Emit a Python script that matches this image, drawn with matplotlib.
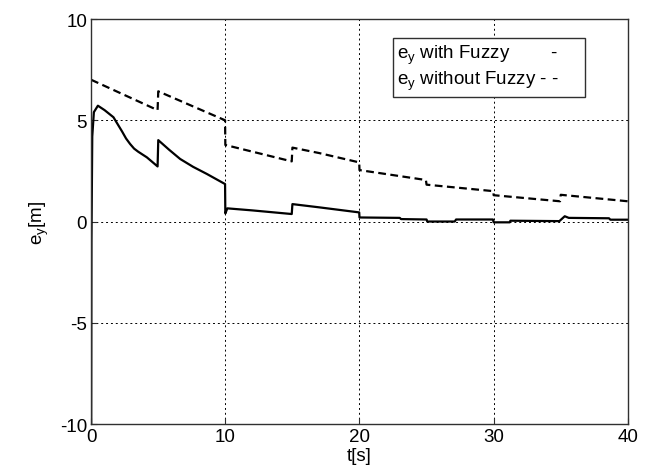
import matplotlib
matplotlib.use("Agg")
import matplotlib.pyplot as plt

plt.rcParams['font.family'] = ['Liberation Sans', 'DejaVu Sans']
plt.rcParams['mathtext.fontset'] = 'custom'
plt.rcParams['mathtext.rm'] = 'Liberation Sans'
plt.rcParams['mathtext.it'] = 'Liberation Sans'
plt.rcParams['axes.unicode_minus'] = False

# Data
t_fuzzy = [0, 0.02, 0.08, 0.2, 0.5, 1.0, 1.66, 2.3, 2.6, 2.9, 3.2, 3.5, 3.8, 4.15, 4.95,
           5.0, 5.8, 6.63, 7.6, 8.62, 9.98, 10.0, 10.15, 12.0, 14.95, 15.0, 17.0,
           19.98, 20.0, 23.0, 23.1, 25.0, 25.05, 27.1, 27.2, 29.95, 30.0, 31.2, 31.25,
           34.9, 35.3, 35.6, 38.6, 38.7, 40.0]
e_fuzzy = [-10, -1.0, 4.2, 5.4, 5.72, 5.5, 5.15, 4.45, 4.1, 3.83, 3.6, 3.45, 3.32, 3.17, 2.72,
           4.02, 3.55, 3.09, 2.7, 2.35, 1.85, 0.4, 0.65, 0.55, 0.37, 0.86, 0.7,
           0.45, 0.2, 0.18, 0.12, 0.1, 0.0, 0.0, 0.1, 0.1, -0.04, -0.04, 0.04,
           0.02, 0.26, 0.18, 0.16, 0.09, 0.09]

t_nofuzzy = [0, 4.95, 5.0, 9.98, 10.0, 14.95, 15.0, 17.0, 19.98, 20.0, 24.95, 25.0,
             29.98, 30.0, 34.95, 35.0, 40.0]
e_nofuzzy = [7.0, 5.5, 6.43, 5.0, 3.78, 2.97, 3.65, 3.38, 2.92, 2.54, 2.05, 1.82,
             1.5, 1.3, 1.0, 1.32, 1.0]

x_ticks = [0, 10, 20, 30, 40]
y_ticks = [-10, -5, 0, 5, 10]

label_fuzzy = r'$\mathregular{e_y}$ with Fuzzy        -' + '\u00a0' * 5
label_nofuzzy = r'$\mathregular{e_y}$ without Fuzzy - -' + '\u00a0' * 5

fig = plt.figure(figsize=(6.56, 4.77), dpi=100)
ax = fig.add_axes([0.139, 0.109, 0.818, 0.849])

ax.plot(t_fuzzy, e_fuzzy, color='black', lw=1.6, label=label_fuzzy)
ax.plot(t_nofuzzy, e_nofuzzy, color='black', lw=1.6, linestyle=(0, (3.5, 2)),
        label=label_nofuzzy)

ax.set_xlim(0, 40)
ax.set_ylim(-10, 10)
ax.set_xticks(x_ticks)
ax.set_yticks(y_ticks)
ax.tick_params(direction='in', labelsize=13.5, length=4, color='#303030', pad=3)
ax.grid(True, color='black', linestyle=(0, (2, 3)), linewidth=0.7)
for s in ax.spines.values():
    s.set_color('#303030')
    s.set_linewidth(1.0)

ax.set_xlabel('t[s]', fontsize=13.5, labelpad=1)
ax.set_ylabel(r'$\mathregular{e_y}$[m]', fontsize=13.5, labelpad=6)

leg = ax.legend(loc='upper left', bbox_to_anchor=(0.562, 0.953), handlelength=0,
                handletextpad=0, fontsize=13.5, frameon=True, fancybox=False,
                framealpha=1, edgecolor='#303030', borderpad=0.25, labelspacing=0.15,
                borderaxespad=0)
for h in leg.legend_handles:
    h.set_visible(False)
leg.get_frame().set_linewidth(1.0)

fig.savefig('out.png', dpi=100)
